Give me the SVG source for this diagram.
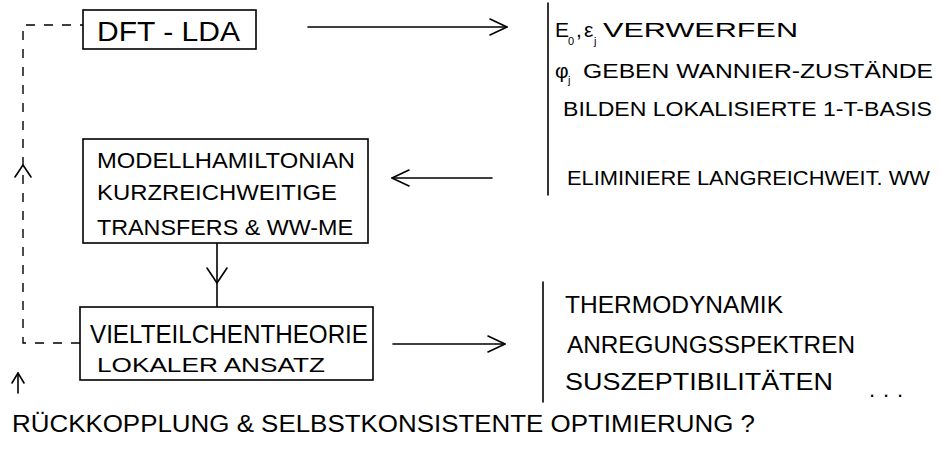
<svg xmlns="http://www.w3.org/2000/svg" width="942" height="449" viewBox="0 0 942 449">
<style>
  .box { fill: #fff; stroke: #000; stroke-width: 1.6; }
  .t { font-family: "Liberation Sans", Arial, sans-serif; fill: #000; }
  .ln { fill: none; stroke: #000; stroke-width: 1.6; stroke-linecap: round; stroke-linejoin: round; }
  .dash { fill: none; stroke: #000; stroke-width: 1.4; stroke-dasharray: 9 9; }
</style>
<defs>
  <marker id="arr" markerUnits="userSpaceOnUse" markerWidth="22" markerHeight="22" refX="18" refY="9" orient="auto" viewBox="0 0 22 18">
    <path d="M1,1 L18,9 L1,17" fill="none" stroke="#000" stroke-width="1.6" stroke-linecap="round" stroke-linejoin="round"/>
  </marker>
</defs>

<g id="connectors">
  <line class="ln" x1="308" y1="27" x2="507" y2="27" marker-end="url(#arr)"/>
  <line class="ln" x1="492" y1="178" x2="392" y2="178" marker-end="url(#arr)"/>
  <line class="ln" x1="217" y1="243" x2="217" y2="307"/>
  <path class="ln" d="M207,268 L217,283 L227,268"/>
  <line class="ln" x1="393" y1="344" x2="505" y2="344" marker-end="url(#arr)"/>
  <path class="dash" d="M80,343 H23 V25 H83"/>
  <path class="ln" d="M15,177 L23,165 L31,177"/>
  <line class="ln" x1="18" y1="393" x2="18" y2="373"/>
  <path class="ln" d="M12,383 L18,373 L24,383"/>
</g>

<g id="dft-lda">
  <rect class="box" x="83" y="10" width="173" height="39"/>
  <text class="t" x="97" y="41" font-size="27" textLength="143" lengthAdjust="spacingAndGlyphs">DFT - LDA</text>
</g>

<g id="modellhamiltonian">
  <rect class="box" x="83" y="139" width="285" height="104"/>
  <text class="t" x="97" y="168" font-size="22" textLength="258" lengthAdjust="spacingAndGlyphs">MODELLHAMILTONIAN</text>
  <text class="t" x="97" y="200" font-size="22" textLength="240" lengthAdjust="spacingAndGlyphs">KURZREICHWEITIGE</text>
  <text class="t" x="97" y="235" font-size="22" textLength="256" lengthAdjust="spacingAndGlyphs">TRANSFERS &amp; WW-ME</text>
</g>

<g id="vielteilchentheorie">
  <rect class="box" x="80" y="307" width="293" height="73"/>
  <text class="t" x="90" y="343" font-size="25" textLength="278" lengthAdjust="spacingAndGlyphs">VIELTEILCHENTHEORIE</text>
  <text class="t" x="97" y="372" font-size="21" textLength="228" lengthAdjust="spacingAndGlyphs">LOKALER ANSATZ</text>
</g>

<g id="dft-notes">
  <line class="ln" x1="548" y1="3" x2="548" y2="195"/>
  <text class="t" font-size="21"><tspan x="555" y="37">E</tspan><tspan x="568" y="45" font-size="11">0</tspan><tspan x="576" y="37">,</tspan><tspan x="584" y="37">ε</tspan><tspan x="594" y="45" font-size="11">j</tspan></text>
  <text class="t" x="603" y="37" font-size="21" textLength="195" lengthAdjust="spacingAndGlyphs">VERWERFEN</text>
  <text class="t" font-size="21"><tspan x="555" y="78">φ</tspan><tspan x="568" y="84" font-size="11">j</tspan></text>
  <text class="t" x="583" y="78" font-size="21" textLength="350" lengthAdjust="spacingAndGlyphs">GEBEN WANNIER-ZUSTÄNDE</text>
  <text class="t" x="563" y="116" font-size="20" textLength="369" lengthAdjust="spacingAndGlyphs">BILDEN LOKALISIERTE 1-T-BASIS</text>
  <text class="t" x="567" y="185" font-size="21" textLength="363" lengthAdjust="spacingAndGlyphs">ELIMINIERE LANGREICHWEIT. WW</text>
</g>

<g id="results">
  <line class="ln" x1="543" y1="282" x2="543" y2="402"/>
  <text class="t" x="565" y="313" font-size="24" textLength="218" lengthAdjust="spacingAndGlyphs">THERMODYNAMIK</text>
  <text class="t" x="567" y="353" font-size="24" textLength="288" lengthAdjust="spacingAndGlyphs">ANREGUNGSSPEKTREN</text>
  <text class="t" x="565" y="390" font-size="24" textLength="268" lengthAdjust="spacingAndGlyphs">SUSZEPTIBILITÄTEN</text>
  <text class="t" x="869" y="397" font-size="22" textLength="34" lengthAdjust="spacing">...</text>
</g>

<g id="feedback">
  <text class="t" x="12" y="432" font-size="23" textLength="743" lengthAdjust="spacingAndGlyphs">RÜCKKOPPLUNG &amp; SELBSTKONSISTENTE OPTIMIERUNG ?</text>
</g>
</svg>
